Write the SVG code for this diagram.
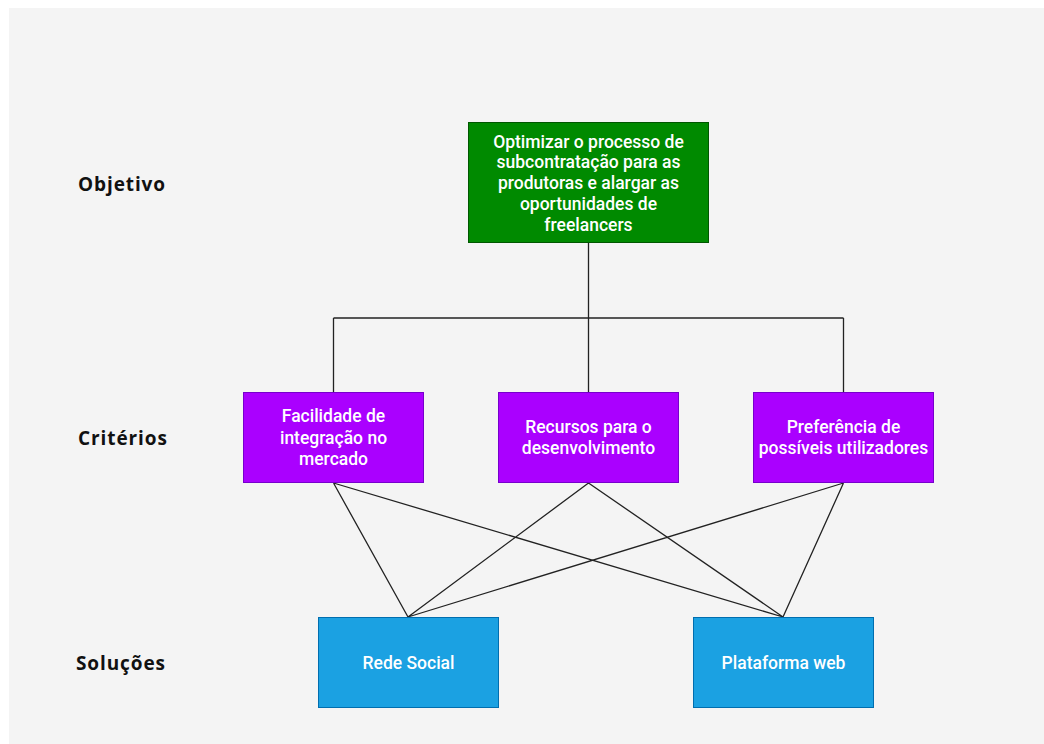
<svg xmlns="http://www.w3.org/2000/svg" width="1044" height="744" viewBox="0 0 1044 744">
  <style>
    .lvl { font-family: "Open Sans", "Liberation Sans", sans-serif; font-weight: 700; font-size: 19px; letter-spacing: 0.9px; fill: #111; }
    .lbl { font-family: "Roboto", "Liberation Sans", sans-serif; font-weight: 500; font-size: 17.5px; fill: #ffffff; text-anchor: middle; }
    .goal { fill: #008a00; stroke: #005700; stroke-width: 1; }
    .crit { fill: #aa00ff; stroke: #7700cc; stroke-width: 1; }
    .sol { fill: #1ba1e2; stroke: #006eaf; stroke-width: 1; }
    .edge { fill: none; stroke: #222; stroke-width: 1.3; }
  </style>
  <rect x="0" y="0" width="1044" height="744" fill="#ffffff"/>
  <rect x="9" y="8" width="1035" height="736" fill="#f4f4f4"/>

  <!-- level labels -->
  <g id="levels">
    <text class="lvl" x="78" y="191">Objetivo</text>
    <text class="lvl" x="78" y="445">Critérios</text>
    <text class="lvl" x="76" y="670">Soluções</text>
  </g>

  <!-- connectors -->
  <g id="connectors">
    <path class="edge" d="M588.5,243 V318 M333.5,318 H843.5 M333.5,318 V392 M588.5,318 V392 M843.5,318 V392"/>
    <path class="edge" d="M333.5,483 L408,617 M333.5,483 L783,617 M588.5,483 L408,617 M588.5,483 L783,617 M843.5,483 L408,617 M843.5,483 L783,617"/>
  </g>

  <g id="goal">
    <rect class="goal" x="468.5" y="122.5" width="240" height="120"/>
    <text class="lbl" x="588.5" y="147.5">Optimizar o processo de</text>
    <text class="lbl" x="588.5" y="168">subcontratação para as</text>
    <text class="lbl" x="588.5" y="189">produtoras e alargar as</text>
    <text class="lbl" x="588.5" y="210">oportunidades de</text>
    <text class="lbl" x="588.5" y="231">freelancers</text>
  </g>

  <g id="crit-integracao">
    <rect class="crit" x="243.5" y="392.5" width="180" height="90"/>
    <text class="lbl" x="333.5" y="422">Facilidade de</text>
    <text class="lbl" x="333.5" y="444">integração no</text>
    <text class="lbl" x="333.5" y="465">mercado</text>
  </g>

  <g id="crit-recursos">
    <rect class="crit" x="498.5" y="392.5" width="180" height="90"/>
    <text class="lbl" x="588.5" y="433">Recursos para o</text>
    <text class="lbl" x="588.5" y="454">desenvolvimento</text>
  </g>

  <g id="crit-preferencia">
    <rect class="crit" x="753.5" y="392.5" width="180" height="90"/>
    <text class="lbl" x="843.5" y="433">Preferência de</text>
    <text class="lbl" x="843.5" y="454">possíveis utilizadores</text>
  </g>

  <g id="sol-rede-social">
    <rect class="sol" x="318.5" y="617.5" width="180" height="90"/>
    <text class="lbl" x="408.5" y="669">Rede Social</text>
  </g>

  <g id="sol-plataforma-web">
    <rect class="sol" x="693.5" y="617.5" width="180" height="90"/>
    <text class="lbl" x="783.5" y="669">Plataforma web</text>
  </g>
</svg>
